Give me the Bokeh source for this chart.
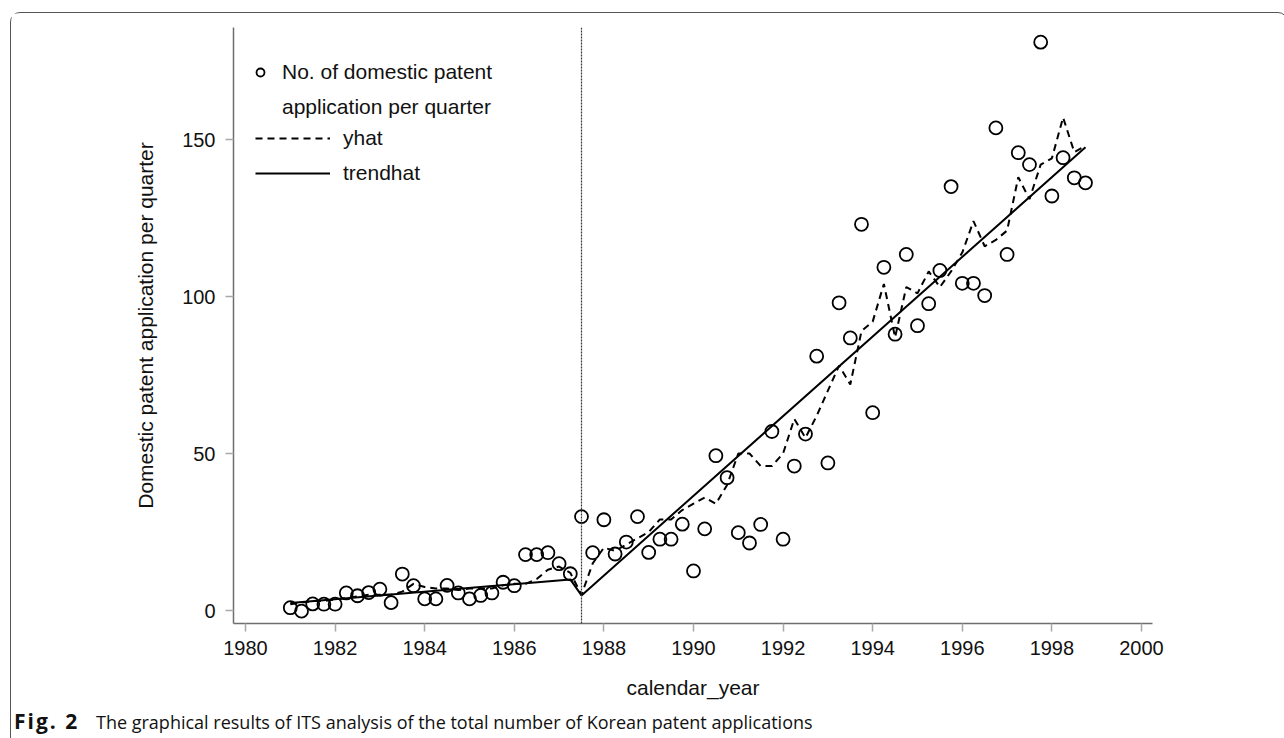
from bokeh.plotting import figure
from bokeh.layouts import column
from bokeh.models import Range1d, Span, Legend, LegendItem, FixedTicker, ColumnDataSource, Div
from bokeh.embed import file_html
from bokeh.resources import INLINE

# ---------------- data ----------------
years = list(range(1981, 1999))
quarter_offsets = [0.0, 0.25, 0.5, 0.75]
time = [y + q for y in years for q in quarter_offsets]

applications = [
    0.9, -0.2, 2.1, 2.0,
    2.0, 5.6, 4.7, 5.7,
    6.8, 2.5, 11.6, 7.9,
    3.7, 3.7, 8.0, 5.6,
    3.7, 4.8, 5.6, 9.0,
    7.9, 17.8, 17.8, 18.4,
    14.9, 11.7, 29.9, 18.4,
    28.9, 18.0, 21.8, 29.9,
    18.5, 22.7, 22.7, 27.5,
    12.6, 26.0, 49.3, 42.3,
    24.8, 21.5, 27.4, 57.0,
    22.7, 46.0, 56.2, 81.0,
    47.0, 98.0, 86.8, 123.0,
    63.0, 109.3, 88.0, 113.4,
    90.7, 97.7, 108.3, 135.0,
    104.2, 104.2, 100.3, 153.7,
    113.4, 145.8, 142.0, 181.0,
    132.0, 144.2, 137.8, 136.2,
]

yhat = [
    2.0, 2.5, 3.0, 3.0,
    3.5, 4.0, 4.5, 5.0,
    5.0, 5.0, 6.0, 8.5,
    7.5, 7.0, 7.0, 6.5,
    7.0, 7.0, 7.0, 8.0,
    8.5, 8.5, 10.0, 13.0,
    14.0, 12.0, 5.0, 15.0,
    20.0, 19.0, 21.0, 23.0,
    25.0, 29.0, 29.0, 32.0,
    34.0, 36.0, 34.0, 40.0,
    50.0, 50.0, 46.0, 46.0,
    50.0, 61.0, 55.0, 62.0,
    70.0, 78.0, 72.0, 89.0,
    92.0, 104.0, 87.0, 103.0,
    101.0, 108.0, 103.0, 108.0,
    114.0, 124.0, 116.0, 118.0,
    121.0, 138.0, 131.0, 142.0,
    144.0, 157.0, 146.0, 148.0,
]

trend_time = [1981.0, 1987.25, 1987.5, 1998.75]
trendhat = [2.4, 9.9, 4.8, 147.5]

intervention = 1987.5
x_ticks = [1980, 1982, 1984, 1986, 1988, 1990, 1992, 1994, 1996, 1998, 2000]
y_ticks = [0, 50, 100, 150]

legend_points = "No. of domestic patent"
legend_points_2 = "application per quarter"
legend_yhat = "yhat"
legend_trend = "trendhat"
x_title = "calendar_year"
y_title = "Domestic patent application per quarter"
caption_bold = "Fig. 2"
caption_text = "The graphical results of ITS analysis of the total number of Korean patent applications"

# ---------------- figure ----------------
FONT = "Liberation Sans"
p = figure(width=1266, height=692, output_backend="svg", toolbar_location=None,
           x_range=Range1d(1979.732, 2000.246), y_range=Range1d(-4.14, 185.67),
           min_border_left=222, min_border_right=125, min_border_top=14, min_border_bottom=82)
p.outline_line_color = None
p.grid.grid_line_color = None
p.background_fill_color = "white"
p.border_fill_color = "white"

for ax in (p.xaxis[0], p.yaxis[0]):
    ax.axis_line_color = "#6e6e6e"
    ax.axis_line_width = 1.5
    ax.major_tick_line_color = "#a8a8a8"
    ax.major_tick_line_width = 1.5
    ax.major_tick_out = 8
    ax.major_tick_in = 0
    ax.minor_tick_line_color = None
    ax.major_label_text_font = FONT
    ax.major_label_text_font_size = "20px"
    ax.major_label_text_color = "#111111"
    ax.axis_label_text_font = FONT
    ax.axis_label_text_font_size = "21px"
    ax.axis_label_text_font_style = "normal"
    ax.axis_label_text_color = "#111111"

p.xaxis[0].ticker = FixedTicker(ticks=x_ticks)
p.yaxis[0].ticker = FixedTicker(ticks=y_ticks)
p.xaxis[0].axis_label = x_title
p.yaxis[0].axis_label = y_title
p.xaxis[0].major_label_standoff = 9
p.xaxis[0].axis_label_standoff = 18
p.yaxis[0].major_label_standoff = 10
p.yaxis[0].axis_label_standoff = 22

src = ColumnDataSource(dict(time=time, applications=applications, yhat=yhat))
tsrc = ColumnDataSource(dict(time=trend_time, trendhat=trendhat))

p.add_layout(Span(location=intervention, dimension="height", line_color="#333333",
                  line_width=1.2, line_dash="2 1"))

r_yhat = p.line("time", "yhat", source=src, line_color="black", line_width=2, line_dash="7 5")
r_trend = p.line("time", "trendhat", source=tsrc, line_color="black", line_width=2)
r_pts = p.scatter("time", "applications", source=src, marker="circle", size=13,
                  fill_color=None, line_color="black", line_width=1.8)
r_dummy = p.scatter(x=[], y=[], marker="circle", size=1, fill_alpha=0, line_alpha=0)

leg1 = Legend(items=[LegendItem(label=legend_points, renderers=[r_pts]),
                     LegendItem(label=legend_points_2, renderers=[r_dummy])],
              location=(17, 504), margin=0, padding=0, spacing=11,
              glyph_width=20, glyph_height=20, label_height=20, label_standoff=12,
              border_line_color=None, background_fill_alpha=0,
              label_text_font=FONT, label_text_font_size="21px", label_text_color="#111111")
leg2 = Legend(items=[LegendItem(label=legend_yhat, renderers=[r_yhat]),
                     LegendItem(label=legend_trend, renderers=[r_trend])],
              location=(22, 438), margin=0, padding=0, spacing=11,
              glyph_width=75, glyph_height=20, label_height=20, label_standoff=13,
              border_line_color=None, background_fill_alpha=0,
              label_text_font=FONT, label_text_font_size="21px", label_text_color="#111111")
p.add_layout(leg1, "center")
p.add_layout(leg2, "center")

caption = Div(
    text=(f'<span style="font-weight:bold;font-size:21px;display:inline-block;width:82px;'
          f'margin-left:-2px;letter-spacing:2px">{caption_bold}</span>{caption_text}'),
    width=1266, height=32,
    styles={"font-family": "'Open Sans', sans-serif", "font-size": "18px", "color": "#111111",
            "line-height": "22px", "padding-left": "0px", "padding-top": "0px",
            "white-space": "nowrap"},
)

layout = column(p, caption, spacing=0)
layout.styles = {"border": "1px solid #555555", "border-radius": "10px",
                 "margin-left": "10px", "margin-top": "12px", "background": "white"}

open("out.html", "w").write(file_html(layout, INLINE))
